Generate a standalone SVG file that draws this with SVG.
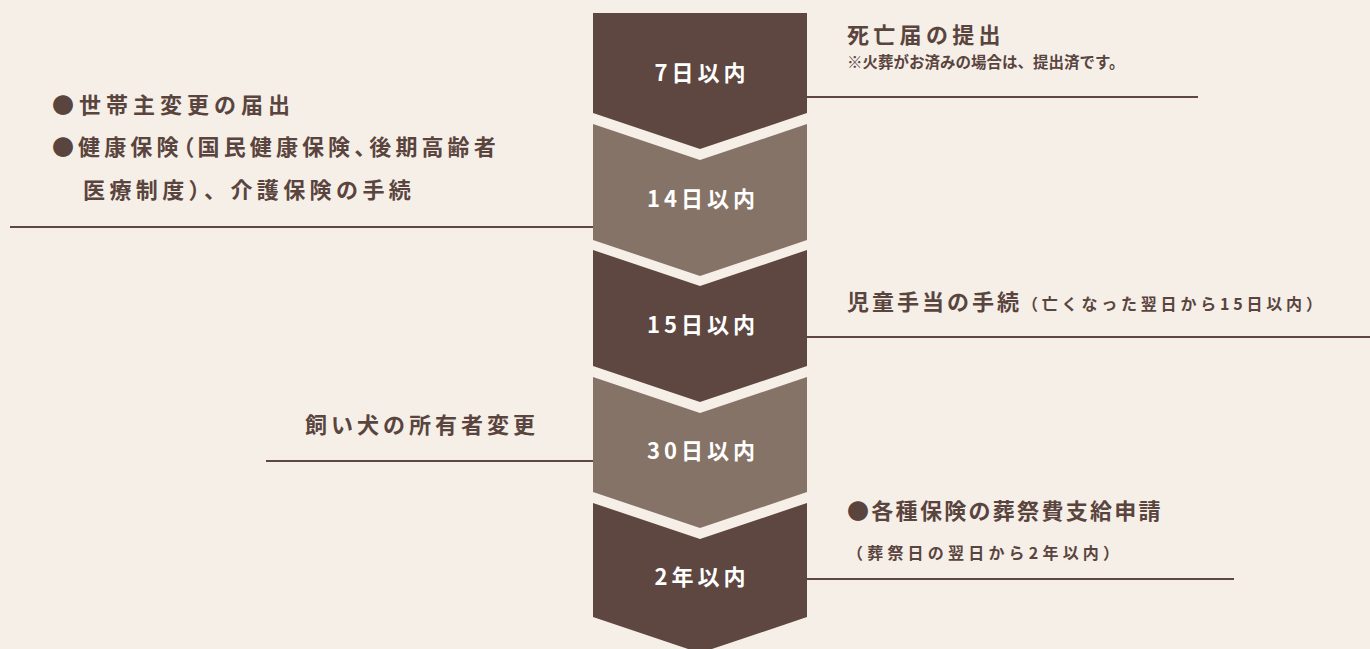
<svg xmlns="http://www.w3.org/2000/svg" width="1370" height="649" viewBox="0 0 1370 649">
<style>
.bg{fill:#f5efe8}
.dk{fill:#5e4741}
.lt{fill:#867367}
.lbl{font-family:"Noto Sans CJK JP","Noto Sans",sans-serif;font-weight:700;font-size:22px;fill:#ffffff;text-anchor:middle;letter-spacing:4px}
.t{font-family:"Noto Sans CJK JP","Noto Sans",sans-serif;font-weight:700;font-size:22px;fill:#5a443e;letter-spacing:4px}
.s{font-family:"Noto Sans CJK JP","Noto Sans",sans-serif;font-weight:700;font-size:16px;fill:#5a443e;letter-spacing:2px}
.ln{stroke:#5e4741;stroke-width:2;fill:none}
</style>
<rect class="bg" x="0" y="0" width="1370" height="649"/>
<g id="connectors">
<line class="ln" x1="807" y1="97" x2="1198" y2="97"/>
<line class="ln" x1="10" y1="227" x2="593" y2="227"/>
<line class="ln" x1="807" y1="337" x2="1370" y2="337"/>
<line class="ln" x1="266" y1="461" x2="593" y2="461"/>
<line class="ln" x1="807" y1="579" x2="1234" y2="579"/>
</g>
<g id="step1">
<polygon class="dk" points="593,13 807,13 807,113 700,149 593,113"/>
<text class="lbl" x="702" y="81">7日以内</text>
</g>
<g id="step2">
<polygon class="lt" points="593,124 700,160 807,124 807,240 700,276 593,240"/>
<text class="lbl" x="703" y="207">14日以内</text>
</g>
<g id="step3">
<polygon class="dk" points="593,250 700,286 807,250 807,366 700,402 593,366"/>
<text class="lbl" x="703" y="333">15日以内</text>
</g>
<g id="step4">
<polygon class="lt" points="593,377 700,413 807,377 807,492 700,528 593,492"/>
<text class="lbl" x="703" y="459">30日以内</text>
</g>
<g id="step5">
<polygon class="dk" points="593,503 700,539 807,503 807,617 700,653 593,617"/>
<text class="lbl" x="702" y="585">2年以内</text>
</g>
<g id="note1">
<text class="t" x="847" y="43" style="letter-spacing:4.3px">死亡届の提出</text>
<text class="s" x="847" y="68" style="font-size:15.5px;letter-spacing:0px">※火葬がお済みの場合は、提出済です。</text>
</g>
<g id="note2">
<text class="t" x="52" y="113" style="letter-spacing:5px">●世帯主変更の届出</text>
<text class="t" x="52" y="155" style="letter-spacing:4.1px;font-feature-settings:'palt'">●健康保険（国民健康保険、後期高齢者</text>
<text class="t" x="83" y="198" style="letter-spacing:4.4px">医療制度）、介護保険の手続</text>
</g>
<g id="note3">
<text class="t" x="847" y="310" style="letter-spacing:3px">児童手当の手続<tspan style="font-size:16px;letter-spacing:3.8px">（亡くなった翌日から15日以内）</tspan></text>
</g>
<g id="note4">
<text class="t" x="305" y="433">飼い犬の所有者変更</text>
</g>
<g id="note5">
<text class="t" x="847" y="519" style="letter-spacing:2.3px">●各種保険の葬祭費支給申請</text>
<text class="s" x="847" y="559" style="letter-spacing:4.2px">（葬祭日の翌日から2年以内）</text>
</g>
</svg>
